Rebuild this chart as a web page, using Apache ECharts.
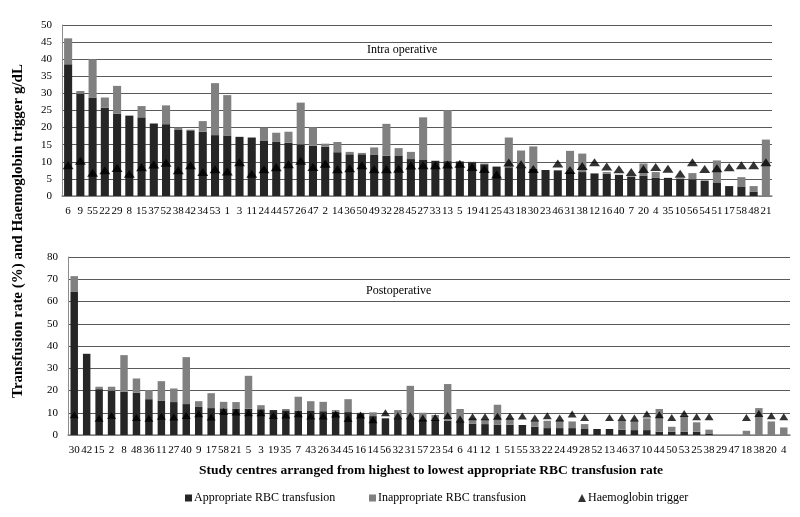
<!DOCTYPE html>
<html><head><meta charset="utf-8">
<script src="https://cdn.jsdelivr.net/npm/echarts/dist/echarts.min.js"></script>
<style>html,body{margin:0;padding:0;background:#fff}#c{width:800px;height:517px}</style>
</head><body><div id="c"></div>
<script>
// ---- Intra operative panel ----
const intraCentres = ['6','9','55','22','29','8','15','37','52','38','42','34','53','1','3','11','24','44','57','26','47','2','14','36','50','49','32','28','45','27','33','13','5','19','41','25','43','18','30','23','46','31','38','12','16','40','7','20','4','35','10','56','54','51','17','58','48','21'];
const intraAppropriate = [38.5,29.9,28.8,25.8,24.1,23.5,23.0,21.2,21.0,19.3,19.2,18.8,17.8,17.7,17.3,17.1,16.1,15.8,15.6,15.1,14.7,14.4,12.8,12.2,12.2,12.0,11.8,11.7,10.8,10.7,10.3,10.2,10.1,9.9,9.3,8.6,8.4,8.2,7.9,7.6,7.5,7.2,7.0,6.6,6.5,6.2,5.7,6.0,5.4,5.3,5.1,4.9,4.5,3.8,2.9,2.8,1.2,0];
const intraInappropriate = [7.6,0.8,11.2,3.0,8.1,0,3.3,0,5.5,0.7,0.2,3.1,15.2,11.8,0,0,3.9,2.7,3.2,12.2,5.4,0.9,3.0,0.7,0.4,2.2,9.3,2.3,2.1,12.3,0,14.9,0,0.1,0.2,0,8.7,5.1,6.6,0,0,6.0,5.4,0,0.5,0,0,3.5,1.6,0,0,1.8,0,6.6,0,2.7,1.7,16.5];
const intraHbTrigger = [9.0,10.3,6.8,7.5,8.2,6.5,8.4,9.2,9.7,7.5,9.0,7.0,7.8,7.2,9.9,6.5,7.8,8.4,9.3,10.3,8.5,9.4,7.8,8.1,9.0,7.8,7.8,8.0,8.9,9.0,9.0,9.2,9.4,8.5,7.9,6.3,9.8,9.3,7.9,'-',9.5,7.6,8.8,9.9,8.6,7.8,7.0,7.9,8.5,8.0,6.5,9.9,7.9,8.1,8.4,9.0,9.0,9.9];

// ---- Postoperative panel ----
const postCentres = ['30','42','15','2','8','48','36','11','27','40','9','17','58','21','5','3','19','35','7','43','26','34','45','16','14','56','32','31','57','23','54','6','41','12','1','51','55','33','22','24','49','28','52','13','46','37','10','44','50','53','25','38','29','47','18','38','20','4'];
const postAppropriate = [64.3,36.5,20.6,19.9,19.4,19.0,16.1,15.5,14.8,13.9,12.6,12.1,12.0,11.9,11.8,11.6,11.2,11.1,11.0,10.8,10.7,10.5,10.3,9.8,8.5,7.5,7.4,7.3,7.0,6.8,6.4,6.1,5.0,4.9,4.7,4.6,4.5,3.7,3.1,3.1,3.1,2.7,2.7,2.7,2.4,2.2,2.2,1.5,1.5,1.5,1.5,0.7,0,0,0,0,0,0];
const postInappropriate = [7.1,0,1.1,1.8,16.5,6.4,4.1,8.7,6.1,21.1,2.6,6.7,2.9,2.9,14.8,1.8,0,0.6,6.2,4.4,4.2,0.7,5.8,0.2,1.7,0,3.8,14.8,3.0,2.2,16.5,5.6,2.5,2.1,8.9,2.9,0,2.7,3.3,3.6,3.0,2.2,0,0,4.0,4.2,5.3,10.2,2.2,7.0,4.2,1.7,0,0,1.9,12.1,6.1,3.4];
const postHbTrigger = [9.1,'-',7.5,8.8,'-',7.9,7.5,8.4,8.1,8.8,9.6,8.1,10.6,10.3,10.0,10.0,8.8,9.0,9.6,8.5,8.5,9.4,7.4,9.0,6.8,10.0,8.7,8.7,7.6,7.9,8.8,7.2,8.2,8.2,8.4,8.4,8.5,7.6,8.7,7.6,9.4,7.9,'-',7.9,7.9,7.6,9.4,9.1,7.9,9.7,8.2,8.2,'-','-',7.9,9.7,8.7,8.2];

const intraTicks = {min:0, max:50, interval:5};
const postTicks = {min:0, max:80, interval:10};

const SERIF = '"Liberation Serif", "Times New Roman", serif';
const DARK = '#262626', GREY = '#808080';

const chart = echarts.init(document.getElementById('c'), null, {renderer:'canvas'});

function xAx(idx, data){
  return {type:'category', gridIndex:idx, data:data,
    axisLine:{show:true, lineStyle:{color:'#8c8c8c', width:1.5}},
    axisTick:{show:false},
    axisLabel:{interval:0, color:'#000', fontFamily:SERIF, fontSize:11, margin:10}};
}
function yAx(idx, t){
  return {type:'value', gridIndex:idx, min:t.min, max:t.max, interval:t.interval,
    axisLine:{show:true, lineStyle:{color:'#8c8c8c', width:1}},
    axisTick:{show:false},
    splitLine:{lineStyle:{color:'#5a5a5a', width:1}},
    axisLabel:{color:'#000', fontFamily:SERIF, fontSize:11, margin:10}};
}

const option = {
  animation:false,
  backgroundColor:'#fff',
  grid:[
    {left:62, right:28, top:25, height:171},
    {left:68, right:10, top:257, height:178}
  ],
  xAxis:[xAx(0,intraCentres), xAx(1,postCentres)],
  yAxis:[yAx(0,intraTicks), yAx(1,postTicks)],
  legend:[
    {data:['Appropriate RBC transfusion'], left:180, top:487, icon:'rect', itemWidth:7, itemHeight:7, itemGap:0,
      textStyle:{fontFamily:SERIF, fontSize:12, color:'#000', padding:[0,0,0,-3]}},
    {data:['Inappropriate RBC transfusion'], left:364, top:487, icon:'rect', itemWidth:7, itemHeight:7, itemGap:0,
      textStyle:{fontFamily:SERIF, fontSize:12, color:'#000', padding:[0,0,0,-3]}},
    {data:['Haemoglobin trigger'], left:573, top:487, icon:'triangle', itemWidth:8, itemHeight:8, itemGap:0,
      textStyle:{fontFamily:SERIF, fontSize:12, color:'#000', padding:[0,0,0,-3]}}
  ],
  graphic:[
    {type:'text', left:367, top:44, style:{text:'Intra operative', font:'12px '+SERIF, fill:'#000'}},
    {type:'text', left:366, top:285, style:{text:'Postoperative', font:'12px '+SERIF, fill:'#000'}},
    {type:'text', x:431, y:471, style:{text:'Study centres arranged from highest to lowest appropriate RBC transfusion rate', font:'bold 13.5px '+SERIF, fill:'#000', align:'center', verticalAlign:'middle'}},
    {type:'text', x:18, y:231, rotation:Math.PI/2, style:{text:'Transfusion rate (%) and Haemoglobin trigger g/dL', font:'bold 15px '+SERIF, fill:'#000', align:'center', verticalAlign:'middle'}}
  ],
  series:[
    {name:'Appropriate RBC transfusion', type:'bar', xAxisIndex:0, yAxisIndex:0, stack:'intra', barWidth:'66%', itemStyle:{color:DARK}, data:intraAppropriate},
    {name:'Inappropriate RBC transfusion', type:'bar', xAxisIndex:0, yAxisIndex:0, stack:'intra', barWidth:'66%', itemStyle:{color:GREY}, data:intraInappropriate},
    {name:'Haemoglobin trigger', type:'scatter', xAxisIndex:0, yAxisIndex:0, symbol:'triangle', symbolSize:[11,8], itemStyle:{color:'#000'}, data:intraHbTrigger, z:5},
    {name:'Appropriate RBC transfusion', type:'bar', xAxisIndex:1, yAxisIndex:1, stack:'post', barWidth:'60%', itemStyle:{color:DARK}, data:postAppropriate},
    {name:'Inappropriate RBC transfusion', type:'bar', xAxisIndex:1, yAxisIndex:1, stack:'post', barWidth:'60%', itemStyle:{color:GREY}, data:postInappropriate},
    {name:'Haemoglobin trigger', type:'scatter', xAxisIndex:1, yAxisIndex:1, symbol:'triangle', symbolSize:[9,7], itemStyle:{color:'#000'}, data:postHbTrigger, z:5}
  ]
};
chart.setOption(option);
</script>
</body></html>
